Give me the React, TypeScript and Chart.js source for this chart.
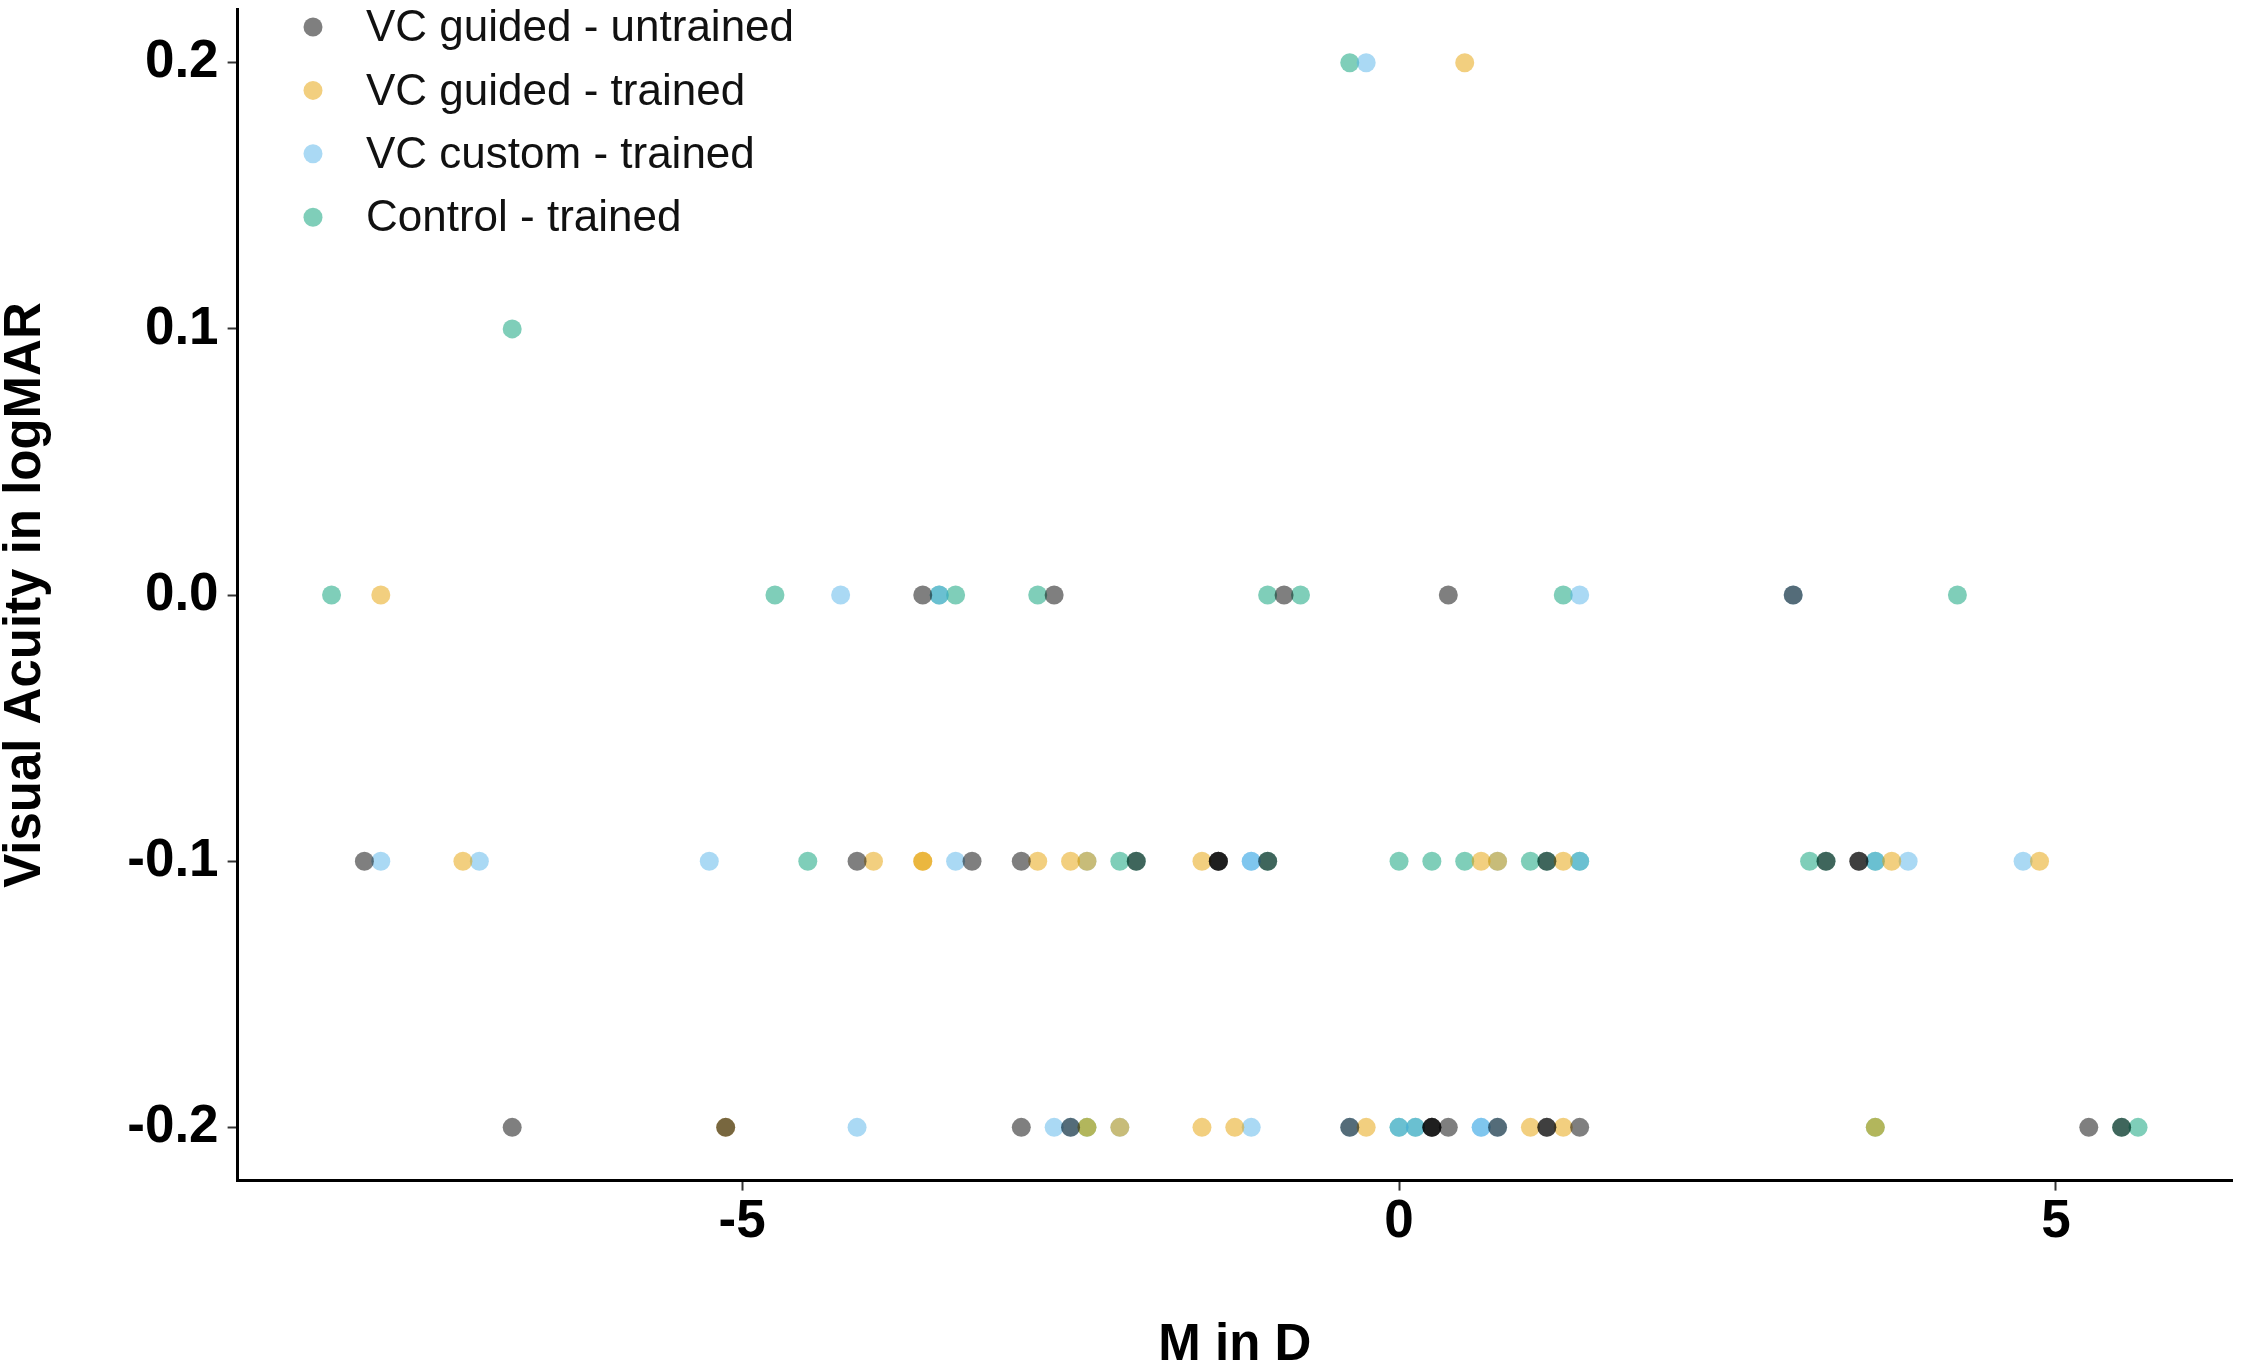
import React, { useEffect, useRef } from 'react';
import { Chart, registerables } from 'chart.js';

Chart.register(...registerables);

const SERIES_LABELS = ['VC guided - untrained', 'VC guided - trained', 'VC custom - trained', 'Control - trained'];
const SERIES_COLORS = ['rgba(0,0,0,0.5)', 'rgba(230,159,0,0.5)', 'rgba(86,180,233,0.5)', 'rgba(0,158,115,0.5)'];

// VC guided - untrained
const GUIDED_UNTRAINED_M = [
  -3.625, -2.625, -0.875, 0.375, 3.0,
  -7.875, -4.125, -3.25, -2.875, -2.0, -1.375, -1.375, -1.375, -1.0, 1.125, 3.25, 3.5, 3.5,
  -6.75, -5.125, -2.875, -2.5, -0.375, 0.25, 0.25, 0.25, 0.375, 0.75, 1.125, 1.125, 1.375, 5.25, 5.5,
];
const GUIDED_UNTRAINED_VA = [
  0.0, 0.0, 0.0, 0.0, 0.0,
  -0.1, -0.1, -0.1, -0.1, -0.1, -0.1, -0.1, -0.1, -0.1, -0.1, -0.1, -0.1, -0.1,
  -0.2, -0.2, -0.2, -0.2, -0.2, -0.2, -0.2, -0.2, -0.2, -0.2, -0.2, -0.2, -0.2, -0.2, -0.2,
];

// VC guided - trained
const GUIDED_TRAINED_M = [
  0.5,
  -7.75,
  -7.125, -4.0, -3.625, -3.625, -2.75, -2.5, -2.375, -1.5, 0.625, 0.75, 1.25, 3.75, 4.875,
  -5.125, -2.375, -2.125, -1.5, -1.25, -0.25, 1.0, 1.25, 3.625,
];
const GUIDED_TRAINED_VA = [
  0.2,
  0.0,
  -0.1, -0.1, -0.1, -0.1, -0.1, -0.1, -0.1, -0.1, -0.1, -0.1, -0.1, -0.1, -0.1,
  -0.2, -0.2, -0.2, -0.2, -0.2, -0.2, -0.2, -0.2, -0.2,
];

// VC custom - trained
const CUSTOM_TRAINED_M = [
  -0.25,
  -4.25, -3.5, 1.375, 3.0,
  -7.75, -7.0, -5.25, -3.375, -2.375, -1.125, -1.125, 0.75, 1.375, 3.625, 3.875, 4.75,
  -4.125, -2.625, -2.5, -2.125, -1.125, -0.375, 0.0, 0.125, 0.625, 0.625, 0.75,
];
const CUSTOM_TRAINED_VA = [
  0.2,
  0.0, 0.0, 0.0, 0.0,
  -0.1, -0.1, -0.1, -0.1, -0.1, -0.1, -0.1, -0.1, -0.1, -0.1, -0.1, -0.1,
  -0.2, -0.2, -0.2, -0.2, -0.2, -0.2, -0.2, -0.2, -0.2, -0.2, -0.2,
];

// Control - trained
const CONTROL_TRAINED_M = [
  -0.375,
  -6.75,
  -8.125, -4.75, -3.5, -3.375, -2.75, -1.0, -0.75, 1.25, 4.25,
  -4.5, -2.125, -2.0, -1.0, 0.0, 0.25, 0.5, 1.0, 1.125, 1.375, 3.125, 3.25, 3.625,
  -2.375, 0.0, 0.125, 3.625, 5.5, 5.625,
];
const CONTROL_TRAINED_VA = [
  0.2,
  0.1,
  0.0, 0.0, 0.0, 0.0, 0.0, 0.0, 0.0, 0.0, 0.0,
  -0.1, -0.1, -0.1, -0.1, -0.1, -0.1, -0.1, -0.1, -0.1, -0.1, -0.1, -0.1, -0.1,
  -0.2, -0.2, -0.2, -0.2, -0.2, -0.2,
];

const X_TICKS = [-5, 0, 5];
const Y_TICKS = [-0.2, -0.1, 0.0, 0.1, 0.2];
const X_RANGE = [-8.84, 6.34];
const Y_RANGE = [-0.22, 0.22];

const FONT = '"Liberation Sans", Arial, Helvetica, sans-serif';

const pairs = (xs: number[], ys: number[]) => xs.map((x, i) => ({ x, y: ys[i] }));

const insideLegend = {
  id: 'insideLegend',
  afterDraw(chart: any) {
    const ctx = chart.ctx as CanvasRenderingContext2D;
    ctx.save();
    chart.data.datasets.forEach((ds: any, i: number) => {
      const y = 27 + i * 63.4;
      ctx.beginPath();
      ctx.arc(313, y, 9.5, 0, Math.PI * 2);
      ctx.fillStyle = ds.backgroundColor;
      ctx.fill();
      ctx.fillStyle = '#111';
      ctx.font = `44px ${FONT}`;
      ctx.textBaseline = 'middle';
      ctx.textAlign = 'left';
      ctx.fillText(ds.label, 366, y + 2);
    });
    ctx.restore();
  },
};

export default function App() {
  const canvasRef = useRef<HTMLCanvasElement | null>(null);

  useEffect(() => {
    document.body.style.margin = '0';
    const canvas = canvasRef.current;
    if (!canvas) return;
    const seriesM = [GUIDED_UNTRAINED_M, GUIDED_TRAINED_M, CUSTOM_TRAINED_M, CONTROL_TRAINED_M];
    const seriesVA = [GUIDED_UNTRAINED_VA, GUIDED_TRAINED_VA, CUSTOM_TRAINED_VA, CONTROL_TRAINED_VA];
    const chart = new Chart(canvas, {
      type: 'scatter',
      data: {
        datasets: SERIES_LABELS.map((label, i) => ({
          label,
          data: pairs(seriesM[i], seriesVA[i]),
          backgroundColor: SERIES_COLORS[i],
          borderColor: SERIES_COLORS[i],
          borderWidth: 0,
          pointRadius: 9.5,
          pointHoverRadius: 9.5,
        })),
      },
      options: {
        responsive: true,
        maintainAspectRatio: false,
        animation: false,
        layout: { padding: { left: 0, top: 0, right: 12, bottom: 0 } },
        plugins: { legend: { display: false }, tooltip: { enabled: false } },
        scales: {
          x: {
            type: 'linear',
            min: X_RANGE[0],
            max: X_RANGE[1],
            afterBuildTicks: (s: any) => { s.ticks = X_TICKS.map((v) => ({ value: v })); },
            afterFit: (s: any) => { s.height = 184.4; s.paddingLeft = 0; s.paddingRight = 0; },
            border: { display: true, color: '#000', width: 3 },
            grid: { display: true, drawOnChartArea: false, drawTicks: true, tickLength: 10, tickWidth: 2, tickColor: '#333' },
            ticks: {
              autoSkip: false,
              maxRotation: 0,
              padding: 0,
              color: '#000',
              font: { family: FONT, size: 53, weight: 'bold', lineHeight: 1.2 },
              callback: (v: any) => String(v),
            },
            title: {
              display: true,
              text: 'M in D',
              color: '#000',
              font: { family: FONT, size: 51, weight: 'bold', lineHeight: 0.76 },
              padding: { top: 0, bottom: 0 },
            },
          },
          y: {
            type: 'linear',
            min: Y_RANGE[0],
            max: Y_RANGE[1],
            afterBuildTicks: (s: any) => { s.ticks = Y_TICKS.map((v) => ({ value: v })); },
            afterFit: (s: any) => { s.width = 237.6; s.paddingTop = 0; s.paddingBottom = 0; },
            border: { display: true, color: '#000', width: 3 },
            grid: { display: true, drawOnChartArea: false, drawTicks: true, tickLength: 10, tickWidth: 2, tickColor: '#333' },
            ticks: {
              autoSkip: false,
              padding: 9,
              color: '#000',
              font: { family: FONT, size: 53, weight: 'bold', lineHeight: 1.2 },
              callback: (v: any) => Number(v).toFixed(1),
            },
            title: {
              display: true,
              text: 'Visual Acuity in logMAR',
              color: '#000',
              font: { family: FONT, size: 51, weight: 'bold', lineHeight: 1 },
              padding: { top: 0, bottom: 0 },
            },
          },
        },
      },
      plugins: [insideLegend],
    } as any);
    return () => chart.destroy();
  }, []);

  return (
    <div style={{ width: '2244px', height: '1365px', position: 'relative' }}>
      <canvas ref={canvasRef} />
    </div>
  );
}
